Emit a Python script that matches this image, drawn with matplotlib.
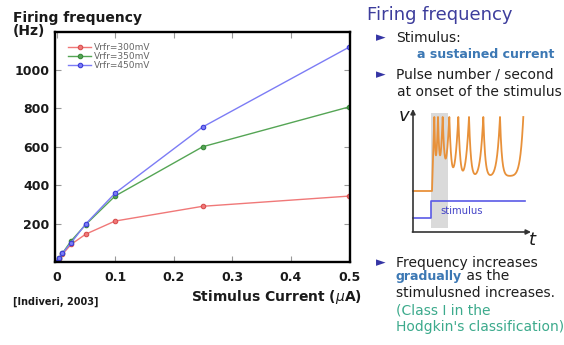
import numpy as np
import matplotlib
matplotlib.use('Agg')
import matplotlib.pyplot as plt
from matplotlib.patches import Rectangle

# ---------------- data ----------------
current = [0, 0.005, 0.01, 0.025, 0.05, 0.1, 0.25, 0.5]
rate_300 = [0, 18, 40, 92, 145, 213, 290, 343]
rate_350 = [0, 20, 45, 110, 195, 343, 600, 807]
rate_450 = [0, 20, 45, 100, 198, 358, 703, 1118]
series_labels = ['Vrfr=300mV', 'Vrfr=350mV', 'Vrfr=450mV']
xticks = [0, 0.1, 0.2, 0.3, 0.4, 0.5]
xticklabels = ['0', '0.1', '0.2', '0.3', '0.4', '0.5']
yticks = [200, 400, 600, 800, 1000]
yticklabels = ['200', '400', '600', '800', '1000']

# schematic inset: spike times (inset units) of the sketched neuron trace
spike_times = [434.3, 438.0, 442.7, 449.3, 458.3, 469.0, 483.3, 500.0, 523.3]

W, H = 564, 345
fig = plt.figure(figsize=(W / 100, H / 100), dpi=100)
fig.patch.set_facecolor('white')


def fx(x):
    return x / W


def fy(y):
    return 1 - y / H


# ---------------- main chart ----------------
L, R, T, B = 55, 350, 32, 262
ax = fig.add_axes([fx(L), fy(B), fx(R) - fx(L), fy(T) - fy(B)])
colors = ['#f07878', '#55a555', '#7c7cf5']
edge = ['#d85050', '#3a8a3a', '#3c3cd8']
for vals, c, e, lab in zip([rate_300, rate_350, rate_450], colors, edge, series_labels):
    ax.plot(current, vals, '-', color=c, lw=1.0, marker='o', ms=3.2,
            mfc=c, mec=e, mew=0.8, label=lab)

ax.set_xlim(-0.0026, 0.5017)
ax.set_ylim(0, 1197)
ax.set_xticks(xticks)
ax.set_xticklabels(xticklabels)
ax.set_yticks(yticks)
ax.set_yticklabels(yticklabels)
ax.tick_params(axis='both', direction='in', length=4, width=0.8, color='#999999',
               top=True, right=True, labelsize=9, labelcolor='#1a1a1a')
ax.tick_params(axis='x', pad=6.5)
ax.tick_params(axis='y', pad=4)
for lbl in ax.get_xticklabels() + ax.get_yticklabels():
    lbl.set_fontweight('bold')
for sp in ax.spines.values():
    sp.set_linewidth(1.7)
    sp.set_color('black')

leg = ax.legend(loc='upper left', bbox_to_anchor=(0.045, 0.952), frameon=False,
                fontsize=6.5, handlelength=2.5, handletextpad=0.3,
                labelspacing=0.0, borderpad=0, borderaxespad=0)
for t in leg.get_texts():
    t.set_color('#666666')

fig.text(fx(13), fy(22), 'Firing frequency', fontsize=10, fontweight='bold',
         color='#1a1a1a', ha='left', va='baseline')
fig.text(fx(13), fy(35), '(Hz)', fontsize=10, fontweight='bold',
         color='#1a1a1a', ha='left', va='baseline')
fig.text(fx(362), fy(301), r'Stimulus Current ($\mu$A)', fontsize=10,
         fontweight='bold', color='#1a1a1a', ha='right', va='baseline')
fig.text(fx(13), fy(302), '[Indiveri, 2003]', fontsize=7, fontweight='bold',
         color='#1a1a1a', ha='left', va='center')

# ---------------- right panel text ----------------
dark = '#1e1e1e'
blue_b = '#3c78b4'
teal = '#3caa8c'
bullet_c = '#3535a5'
fig.text(fx(367), fy(20), 'Firing frequency', fontsize=13, color='#3d3d9c',
         ha='left', va='baseline')

for yb in (37.7, 75, 263):
    fig.text(fx(376), fy(yb), '\u25BA', fontsize=9, color=bullet_c,
             ha='left', va='center')

fig.text(fx(396), fy(37.7), 'Stimulus:', fontsize=10, color=dark, va='center')
fig.text(fx(417), fy(54), 'a sustained current', fontsize=9, fontweight='bold',
         color=blue_b, va='center')
fig.text(fx(396), fy(75), 'Pulse number / second', fontsize=10, color=dark, va='center')
fig.text(fx(397), fy(92), 'at onset of the stimulus', fontsize=10, color=dark, va='center')

fig.text(fx(396), fy(263), 'Frequency increases', fontsize=10, color=dark, va='center')
t1 = fig.text(fx(396), fy(280), 'gradually', fontsize=9, fontweight='bold',
              color=blue_b, va='baseline')
fig.canvas.draw()
bb = t1.get_window_extent(renderer=fig.canvas.get_renderer())
fig.text(bb.x1 / fig.bbox.width, fy(280), ' as the', fontsize=10, color=dark,
         va='baseline')
fig.text(fx(396), fy(297), 'stimulusned increases.', fontsize=10, color=dark,
         va='baseline')
fig.text(fx(396), fy(314), '(Class I in the', fontsize=10, color=teal, va='baseline')
fig.text(fx(396), fy(331), "Hodgkin's classification)", fontsize=10, color=teal,
         va='baseline')

# ---------------- inset schematic ----------------
IX0, IX1, IY0, IY1 = 395, 545, 103, 250
iax = fig.add_axes([fx(IX0), fy(IY1), fx(IX1) - fx(IX0), fy(IY0) - fy(IY1)])
iax.set_xlim(IX0, IX1)
iax.set_ylim(IY1, IY0)
iax.axis('off')

iax.add_patch(Rectangle((430.5, 113), 17, 115, color='#dadada', zorder=0, lw=0))

base_y, peak_y, trough_y = 191, 117, 176
xs = [413, 432]
ys = [base_y, base_y]
xs.append(spike_times[0])
ys.append(peak_y)
for a, b in zip(spike_times[:-1], spike_times[1:]):
    p = np.linspace(0, 1, 60)[1:]
    k = max(2.0, (b - a) / 3.0)
    v = trough_y + (peak_y - trough_y) * ((1 - p) ** (1.6 * k) + p ** k)
    xs.extend(list(a + (b - a) * p))
    ys.extend(list(v))
iax.plot(xs, ys, color='#e8913a', lw=1.3, zorder=3)

stim_x = [413, 431, 431, 525]
stim_y = [218, 218, 201, 201]
iax.plot(stim_x, stim_y, color='#5a5ae6', lw=1.2, zorder=3)
iax.text(440, 211, 'stimulus', fontsize=7.2, color='#4545c8', ha='left', va='center')

iax.annotate('', xy=(413, 109), xytext=(413, 232),
             arrowprops=dict(arrowstyle='-|>', color='#333333', lw=1.2,
                             mutation_scale=7, shrinkA=0, shrinkB=0))
iax.annotate('', xy=(531, 232), xytext=(412.4, 232),
             arrowprops=dict(arrowstyle='-|>', color='#333333', lw=1.2,
                             mutation_scale=7, shrinkA=0, shrinkB=0))
iax.text(404, 116, r'$v$', fontsize=13, color='#1a1a1a', ha='center', va='center')
iax.text(533, 240, r'$t$', fontsize=13, color='#1a1a1a', ha='center', va='center')

fig.savefig('out.png', dpi=100, facecolor='white')
